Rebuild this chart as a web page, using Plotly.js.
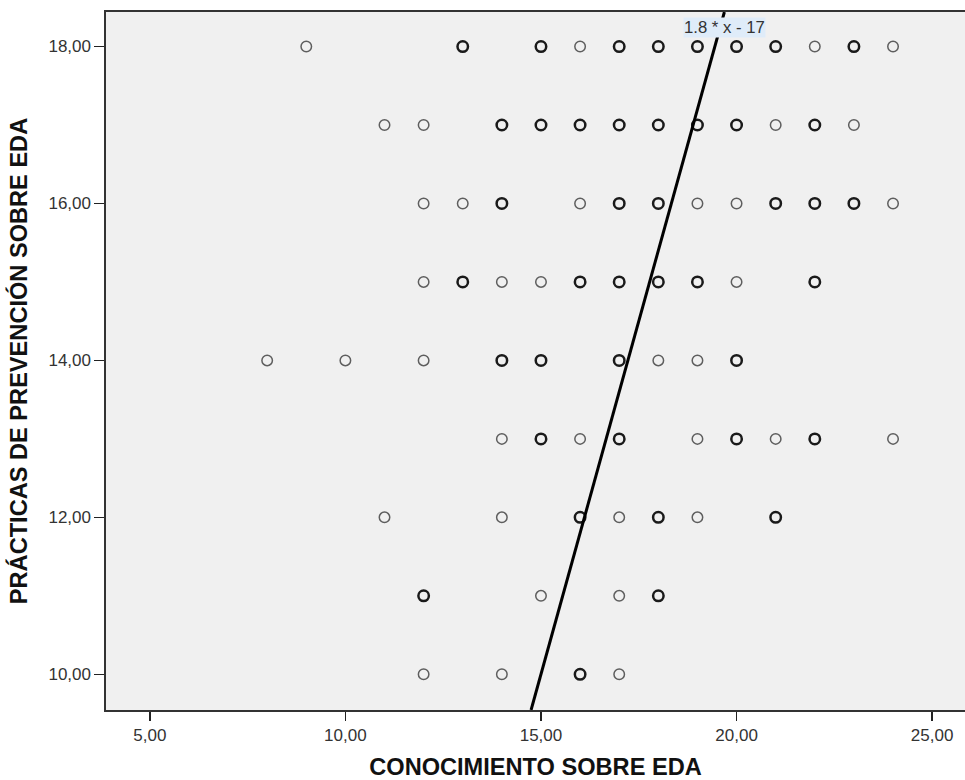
<!DOCTYPE html>
<html>
<head>
<meta charset="utf-8">
<script src="https://cdn.plot.ly/plotly-3.0.1.min.js"></script>
<style>html,body{margin:0;padding:0;background:#fff;}#chart{width:965px;height:780px;}</style>
</head>
<body>
<div id="chart"></div>
<script>
// Conocimiento (x), Prácticas (y), overlap (1 = single case, 2 = several cases)
const conocimiento = [
  9,13,15,16,17,18,19,20,21,22,23,24,
  11,12,14,15,16,17,18,19,20,21,22,23,
  12,13,14,16,17,18,19,20,21,22,23,24,
  12,13,14,15,16,17,18,19,20,22,
  8,10,12,14,15,17,18,19,20,
  14,15,16,17,19,20,21,22,24,
  11,14,16,17,18,19,21,
  12,15,17,18,
  12,14,16,17
];
const practicas = [
  18,18,18,18,18,18,18,18,18,18,18,18,
  17,17,17,17,17,17,17,17,17,17,17,17,
  16,16,16,16,16,16,16,16,16,16,16,16,
  15,15,15,15,15,15,15,15,15,15,
  14,14,14,14,14,14,14,14,14,
  13,13,13,13,13,13,13,13,13,
  12,12,12,12,12,12,12,
  11,11,11,11,
  10,10,10,10
];
const overlap = [
  1,2,2,1,2,2,2,2,2,1,2,1,
  1,1,2,2,2,2,2,2,2,1,2,1,
  1,1,2,1,2,2,1,1,2,2,2,1,
  1,2,1,1,2,2,2,2,1,2,
  1,1,1,2,2,2,1,1,2,
  1,2,1,2,1,2,1,2,1,
  1,1,2,1,2,1,2,
  2,1,1,2,
  1,1,2,1
];
const fitSlope = 1.8;
const fitIntercept = -17;
const fitLabel = "1.8 * x - 17";
const xTickVals = [5,10,15,20,25];
const xTickText = ["5,00","10,00","15,00","20,00","25,00"];
const yTickVals = [10,12,14,16,18];
const yTickText = ["10,00","12,00","14,00","16,00","18,00"];
const xTitle = "CONOCIMIENTO SOBRE EDA";
const yTitle = "PRÁCTICAS DE PREVENCIÓN SOBRE EDA";

const xRange = [3.88, 25.84];
const yRange = [9.545, 18.44];

const single = {x:[],y:[]}, multi = {x:[],y:[]};
conocimiento.forEach((v,i)=>{
  const t = overlap[i] > 1 ? multi : single;
  t.x.push(v); t.y.push(practicas[i]);
});

const fitY = [yRange[0], yRange[1]];
const fitX = fitY.map(y => (y - fitIntercept)/fitSlope);

const traces = [
  {type:'scatter', mode:'markers', x:single.x, y:single.y, hoverinfo:'x+y',
   marker:{symbol:'circle-open', size:10.5, color:'#5e5e5e', line:{width:1.5, color:'#5e5e5e'}}},
  {type:'scatter', mode:'markers', x:multi.x, y:multi.y, hoverinfo:'x+y',
   marker:{symbol:'circle-open', size:10.5, color:'#1a1a1a', line:{width:2.5, color:'#1a1a1a'}}},
  {type:'scatter', mode:'lines', x:fitX, y:fitY, line:{color:'#000', width:3}, hoverinfo:'skip'}
];

const font = 'Arial, "Liberation Sans", sans-serif';
const layout = {
  width:965, height:780,
  margin:{l:106, r:0, t:12, b:70},
  paper_bgcolor:'#ffffff', plot_bgcolor:'#f0f0f0',
  showlegend:false,
  font:{family:font, size:17, color:'#333'},
  xaxis:{range:xRange, tickvals:xTickVals, ticktext:xTickText, showgrid:false, zeroline:false,
    ticks:'outside', ticklen:9, tickwidth:1.5, tickcolor:'#222',
    showline:true, mirror:true, linecolor:'#333', linewidth:1.6,
    tickfont:{family:font, size:17, color:'#333'},
    title:{text:xTitle, standoff:16, font:{family:font, size:23.6, color:'#111', weight:'bold'}}},
  yaxis:{range:yRange, tickvals:yTickVals, ticktext:yTickText, showgrid:false, zeroline:false,
    ticks:'outside', ticklen:10, tickwidth:1.5, tickcolor:'#222',
    showline:true, mirror:true, linecolor:'#333', linewidth:1.6,
    tickfont:{family:font, size:17, color:'#333'},
    title:{text:yTitle, standoff:14, font:{family:font, size:23.6, color:'#111', weight:'bold'}}},
  annotations:[{
    text:fitLabel, xref:'x', yref:'paper', x:(yRange[1]-fitIntercept)/fitSlope, y:1,
    yanchor:'top', xanchor:'center', yshift:-5, showarrow:false,
    bgcolor:'#dfecf9', font:{family:font, size:16.7, color:'#333'}, borderpad:0
  }]
};
Plotly.newPlot('chart', traces, layout, {displayModeBar:false, staticPlot:true});
</script>
</body>
</html>
